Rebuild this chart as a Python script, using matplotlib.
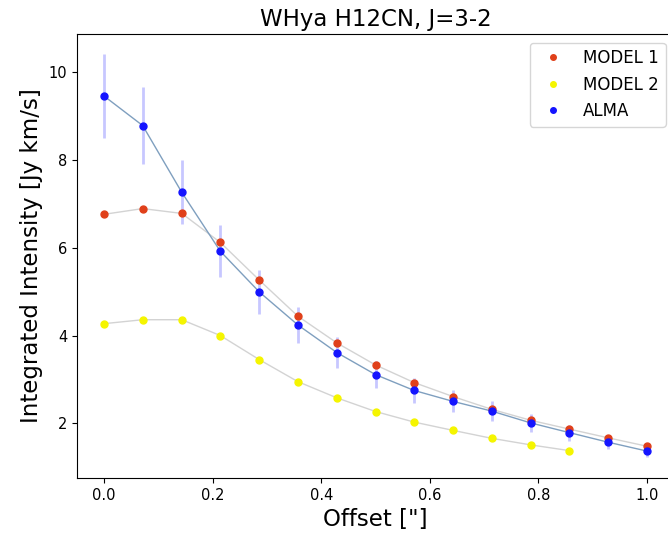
import numpy as np
import matplotlib
matplotlib.use('Agg')
import matplotlib.pyplot as plt

# offsets in arcsec (15 radial bins out to 1")
offset = [0.0, 0.071, 0.143, 0.214, 0.286, 0.357, 0.429, 0.5,
          0.571, 0.643, 0.714, 0.786, 0.857, 0.929, 1.0]

model1 = [6.76, 6.89, 6.78, 6.12, 5.26, 4.44, 3.83, 3.33,
          2.93, 2.61, 2.32, 2.07, 1.87, 1.67, 1.48]
model2 = [4.27, 4.36, 4.36, 4.00, 3.45, 2.95, 2.58, 2.27,
          2.03, 1.84, 1.66, 1.51, 1.38]
alma = [9.45, 8.78, 7.26, 5.92, 4.99, 4.24, 3.61, 3.11,
        2.75, 2.50, 2.28, 2.01, 1.79, 1.57, 1.37]
alma_err = [0.95, 0.88, 0.73, 0.59, 0.50, 0.42, 0.36, 0.31,
            0.28, 0.25, 0.23, 0.20, 0.18, 0.16, 0.14]

fig = plt.figure(figsize=(6.68, 5.43), dpi=100)
ax = fig.add_axes([0.1153, 0.12, 0.8937, 0.817])

ax.plot(offset, model1, color='lightgray', lw=1, zorder=1)
ax.plot(offset[:len(model2)], model2, color='lightgray', lw=1, zorder=1)
ax.plot(offset, alma, color='#7f9fbf', lw=1, zorder=1)
ax.errorbar(offset, alma, yerr=alma_err, fmt='none', ecolor='blue', alpha=0.22, elinewidth=2, zorder=0)

ax.plot(offset, model1, 'o', color='#e0401a', ms=5, label='MODEL 1', zorder=2)
ax.plot(offset[:len(model2)], model2, 'o', color='#f5f500', ms=5, label='MODEL 2', zorder=2)
ax.plot(offset, alma, 'o', color='#1414ff', ms=5, label='ALMA', zorder=3)

ax.set_xlim(-0.05, 1.05)
ax.set_ylim(0.76, 10.86)
ax.set_xticks([0.0, 0.2, 0.4, 0.6, 0.8, 1.0])
ax.set_yticks([2, 4, 6, 8, 10])
ax.tick_params(labelsize=10.5)
ax.set_xlabel('Offset ["]', fontsize=16.5)
ax.set_ylabel('Integrated Intensity [Jy km/s]', fontsize=16.5)
ax.set_title('WHya H12CN, J=3-2', fontsize=16.5)
ax.legend(loc='upper right', fontsize=12, markerscale=0.8)

fig.savefig('out.png', dpi=100)
